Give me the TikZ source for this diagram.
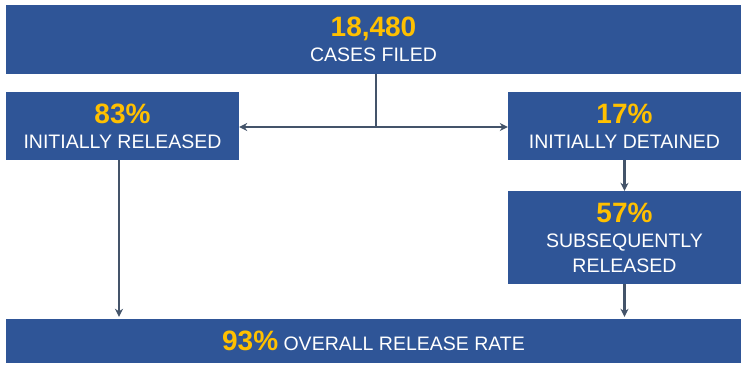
\documentclass[tikz,border=0pt]{standalone}
\usepackage{fontspec}
\setmainfont{Liberation Sans}
\usetikzlibrary{arrows.meta}
\definecolor{boxblue}{HTML}{2F5597}
\definecolor{figgold}{HTML}{FFC000}
\definecolor{linkgray}{HTML}{44546A}
\newcommand{\bignum}[1]{{\fontsize{28}{25}\selectfont\bfseries\color{figgold}#1}}

\begin{document}
\begin{tikzpicture}[x=1pt, y=-1pt,
    box_style/.style={rectangle, fill=boxblue, text=white, inner sep=0pt, align=center,
        font=\fontsize{19.5}{25}\selectfont},
    flow_style/.style={draw=linkgray, line width=2.5pt, -{Stealth[length=8pt, width=8pt]}}
]
\useasboundingbox (0,0) rectangle (749,374);
% Cas deposes
\node[box_style, minimum width=735pt, minimum height=69pt] (filed) at (373.5,39.5)
    {\bignum{18,480}\\CASES FILED};
% Deux branches
\node[box_style, minimum width=233pt, minimum height=68pt] (released) at (122.5,126)
    {\bignum{83\%}\\INITIALLY RELEASED};
\node[box_style, minimum width=233pt, minimum height=68pt] (detained) at (624.5,126)
    {\bignum{17\%}\\INITIALLY DETAINED};
\node[box_style, minimum width=233pt, minimum height=93pt] (later) at (624.5,237.5)
    {\bignum{57\%}\\SUBSEQUENTLY\\RELEASED};
% Total
\node[box_style, minimum width=735pt, minimum height=44pt] (overall) at (373.5,341)
    {\bignum{93\%} OVERALL RELEASE RATE};
% Fleches
\coordinate (split) at (376,127);
\draw[draw=linkgray, line width=2.5pt] (filed.south -| split) -- (split);
\draw[flow_style] (split) -- (split -| released.east);
\draw[flow_style] (split) -- (split -| detained.west);
\draw[flow_style, shorten >=2pt] ([xshift=-3.5pt]released.south) -- ([xshift=-3.5pt]released.south |- overall.north);
\draw[flow_style] (detained.south) -- (later.north);
\draw[flow_style, shorten >=2pt] (later.south) -- (later.south |- overall.north);
\end{tikzpicture}
\end{document}
